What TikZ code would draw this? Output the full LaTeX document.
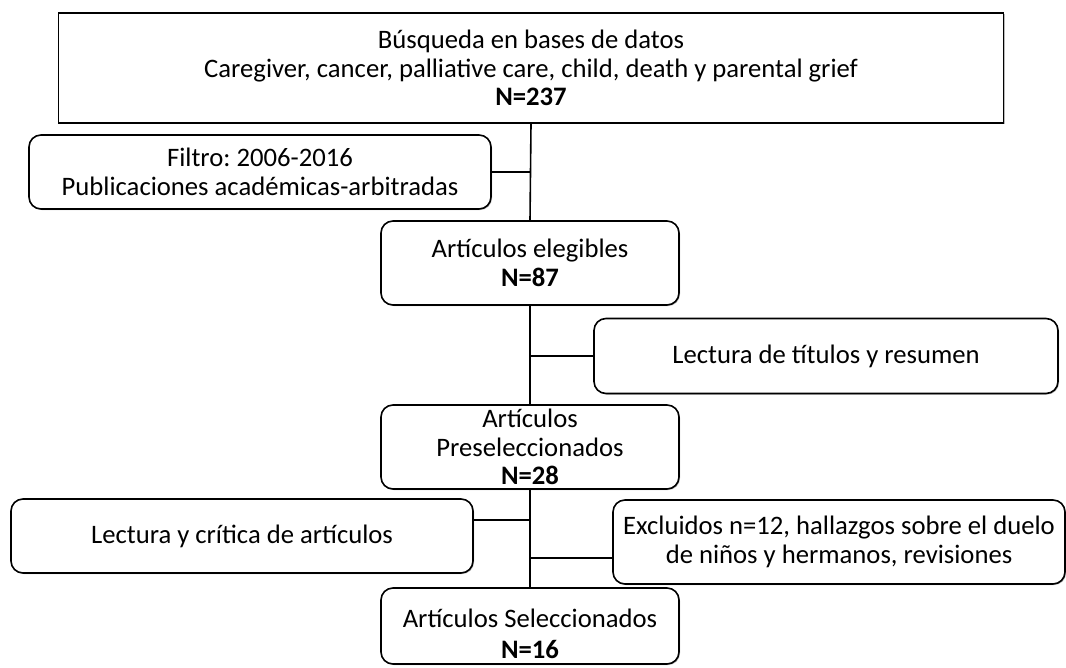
\documentclass[tikz,border=0pt]{standalone}
\usepackage{fontspec}
\setmainfont{Carlito}
\frenchspacing
\usetikzlibrary{calc,shadows}
\begin{document}
\begin{tikzpicture}[x=0.75pt,y=-0.75pt,
  every node/.style={font=\frenchspacing\fontsize{20}{21.5}\selectfont, align=center, inner sep=0pt},
  shade1/.style={drop shadow={shadow xshift=0.8pt, shadow yshift=-0.8pt, fill=black!45, opacity=0.6}},
  box/.style={draw=black, line width=1.2pt, fill=white, rounded corners=9pt, shade1},
  sqbox/.style={draw=black, line width=1.2pt, fill=white, shade1},
  link/.style={draw=black, line width=1.2pt}]
\useasboundingbox (0,0) rectangle (1066,667);
\node[sqbox, minimum width=708.75pt, minimum height=82.5pt] (top) at (531,68)
  {Búsqueda en bases de datos\\Caregiver, cancer, palliative care, child, death y parental grief\\\textbf{N=237}};
\node[box, minimum width=346.5pt, minimum height=55.5pt] (filtro) at (260,172)
  {Filtro: 2006-2016\\Publicaciones académicas-arbitradas};
\node[box, minimum width=223.5pt, minimum height=63pt] (eleg) at (530,263)
  {Artículos elegibles\\\textbf{N=87}};
\node[box, minimum width=348pt, minimum height=56.25pt] (titulos) at (826,356)
  {Lectura de títulos y resumen};
\node[box, minimum width=223.5pt, minimum height=63pt] (presel) at (530,447)
  {Artículos\\Preseleccionados\\\textbf{N=28}};
\node[box, minimum width=346.5pt, minimum height=55.5pt] (critica) at (242,536)
  {Lectura y crítica de artículos};
\node[box, minimum width=339pt, minimum height=63pt] (excl) at (839,542)
  {Excluidos n=12, hallazgos sobre el duelo\\de niños y hermanos, revisiones};
\node[box, minimum width=223.5pt, minimum height=57pt] (final) at (530,626)
  {\rule{0pt}{26pt}Artículos Seleccionados\\[1.5pt]\textbf{N=16}};
\draw[link] (top.south) -- (eleg.north);
\draw[link] (eleg.south) -- (presel.north);
\draw[link] (presel.south) -- (final.north);
\draw[link] (filtro.east) -- (filtro.east -| top.south);
\draw[link] (titulos.west) -- (titulos.west -| eleg.south);
\draw[link] ([yshift=12pt]critica.east) -- ([yshift=12pt]critica.east -| presel.south);
\draw[link] ([yshift=-12pt]excl.west) -- ([yshift=-12pt]excl.west -| presel.south);
\end{tikzpicture}
\end{document}
